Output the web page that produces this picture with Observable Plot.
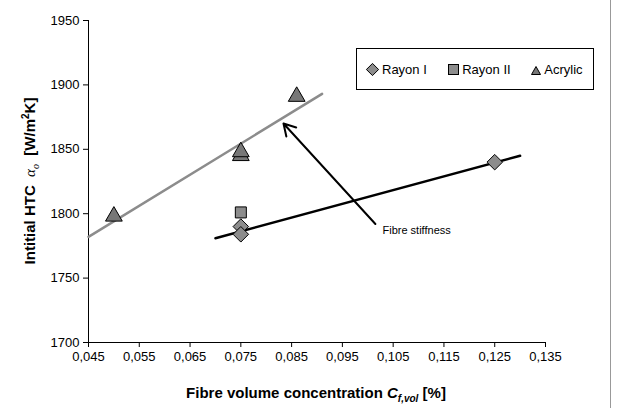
<!DOCTYPE html><html><head><meta charset="utf-8">
<script src="https://cdn.jsdelivr.net/npm/d3@7"></script>
<script src="https://cdn.jsdelivr.net/npm/@observablehq/plot@0.6"></script>
<style>body{margin:0;background:#fff;font-family:"Liberation Sans",Arial,sans-serif}#w{position:relative;width:631px;height:408px}
.lab{position:absolute;font-weight:bold;font-size:15px;white-space:nowrap}
#leg{position:absolute;left:356px;top:48px;width:238px;height:42px;border:1px solid #000;background:#fff;font-size:13px;display:flex;align-items:center;justify-content:space-around;box-sizing:border-box}
.sw{display:inline-block;width:9px;height:9px;background:#8c8c8c;border:1px solid #000;vertical-align:-1px}
</style></head><body><div id="w"></div>
<script>
const rayonI = [[0.075,1790],[0.075,1784],[0.125,1840]];
const rayonII = [[0.075,1801]];
const acrylic = [[0.05,1798],[0.075,1845],[0.075,1848],[0.086,1891]];
const acrylicTrend = [[0.045,1782],[0.091,1893]];
const rayonTrend = [[0.070,1781],[0.130,1845]];
const arrow = {x1:0.1015,y1:1792,x2:0.0834,y2:1870};
const xTicks = [0.045,0.055,0.065,0.075,0.085,0.095,0.105,0.115,0.125,0.135];
const yTicks = [1700,1750,1800,1850,1900,1950];
const fmt = d => d.toFixed(3).replace(".", ",");
const pl = Plot.plot({
  width:631,height:408,marginLeft:88,marginRight:86,marginTop:20,marginBottom:66,
  style:{fontFamily:"'Liberation Sans', Arial, sans-serif",fontSize:"13px",color:"#000"},
  x:{domain:[0.045,0.135],ticks:xTicks,tickFormat:fmt,label:null,tickSize:5},
  y:{domain:[1700,1950],ticks:yTicks,tickFormat:d=>String(d),label:null,tickSize:5},
  marks:[
    Plot.ruleX([0.045],{stroke:"#000"}),
    Plot.ruleY([1700],{stroke:"#000"}),
    Plot.line(acrylicTrend,{x:d=>d[0],y:d=>d[1],stroke:"#8c8c8c",strokeWidth:2.5}),
    Plot.line(rayonTrend,{x:d=>d[0],y:d=>d[1],stroke:"#000",strokeWidth:2.5}),
    Plot.arrow([arrow],{x1:"x1",y1:"y1",x2:"x2",y2:"y2",stroke:"#000",strokeWidth:2,headLength:10}),
    Plot.text([[0.1029,1787]],{x:d=>d[0],y:d=>d[1],text:()=>"Fibre stiffness",textAnchor:"start",fontSize:11}),
    Plot.dot(rayonI,{x:d=>d[0],y:d=>d[1],symbol:"diamond2",r:7,fill:"#8c8c8c",stroke:"#000",strokeWidth:1}),
    Plot.dot(rayonII,{x:d=>d[0],y:d=>d[1],symbol:"square2",r:7,fill:"#8c8c8c",stroke:"#000",strokeWidth:1}),
    Plot.dot(acrylic,{x:d=>d[0],y:d=>d[1],symbol:"triangle2",r:8,fill:"#777",stroke:"#000",strokeWidth:1})
  ]
});
const w=document.getElementById("w");
w.appendChild(pl);
w.insertAdjacentHTML("beforeend",`
<div style="position:absolute;left:610px;top:0;width:1px;height:408px;background:#999"></div>
<div id="leg"><span><span class="sw" style="transform:rotate(45deg) scale(.85)"></span> Rayon I</span><span><span class="sw"></span> Rayon II</span><span><svg width="10" height="9" style="vertical-align:-1px"><path d="M5,0.5L9.5,8.5H0.5Z" fill="#777" stroke="#000"/></svg> Acrylic</span></div>
<div class="lab" style="left:316px;top:384px;transform:translateX(-50%)">Fibre volume concentration <i>C<sub style="font-size:10px">f,vol</sub></i> [%]</div>
<div class="lab" style="left:30px;top:181px;transform:translate(-50%,-50%) rotate(-90deg)">Intitial HTC &nbsp;<i style="font-family:'Liberation Serif',serif;font-weight:normal">α<sub style="font-size:10px">o</sub></i>&nbsp; [W/m<sup style="font-size:10px">2</sup>K]</div>
`);
</script></body></html>
